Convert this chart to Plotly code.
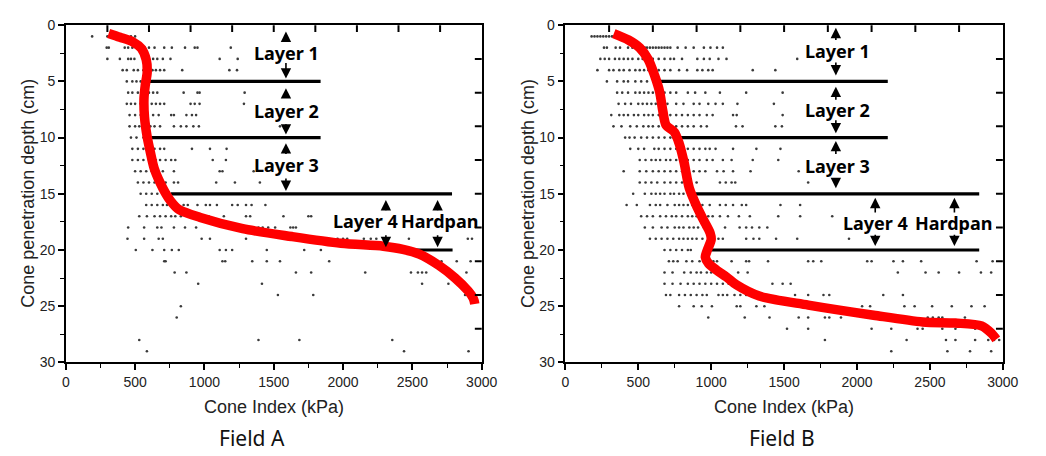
import plotly.graph_objects as go

# ---------------- data ----------------
x_ticks = [0, 500, 1000, 1500, 2000, 2500, 3000]
y_ticks = [0, 5, 10, 15, 20, 25, 30]
top_ticks = [300, 600, 900, 1200, 1500, 1800, 2100, 2400, 2700]
right_ticks = [3, 6, 9, 12, 15, 18, 21, 24, 27]

# mean cone index profiles (red curves)
A_curve_x = [309, 391, 486, 545, 580, 587, 573, 564, 568, 587, 611, 639, 700, 757, 816, 970,
             1276, 1630, 1984, 2290, 2432, 2550, 2691, 2809, 2903, 2935, 2945, 2950]
A_curve_y = [0.73, 1.07, 1.5, 2.07, 3.07, 4.2, 5.36, 6.5, 8.2, 9.93, 11.36, 12.8, 14.5, 15.65, 16.4, 17.1,
             18.1, 18.8, 19.4, 19.66, 19.94, 20.37, 21.37, 22.5, 23.65, 24.2, 24.5, 24.8]
B_curve_x = [332, 433, 511, 568, 612, 646, 668, 691, 747, 780, 814, 850, 904, 948, 993, 1000, 971, 960,
             982, 1038, 1105, 1173, 1330, 1666, 2114, 2451, 2675, 2854, 2921, 2955]
B_curve_y = [0.75, 1.32, 2.03, 3.04, 4.47, 5.9, 7.6, 8.9, 9.5, 10.5, 12.2, 14.5, 16.2, 17.35, 18.5, 19.07,
             20.1, 20.65, 21.2, 21.8, 22.4, 23.1, 24.1, 24.9, 25.8, 26.4, 26.5, 26.75, 27.4, 27.95]

# individual measurements (dots), grouped by depth
A_dot_depths = [1, 2, 3, 4, 5, 6, 7, 8, 9, 10, 11, 12, 13, 14, 15, 16, 17, 18, 19, 20, 21, 22, 23, 24, 25, 26, 28, 29]
A_dot_values = [
    [190, 300, 320, 470, 500],
    [295, 310, 425, 450, 480, 545, 570, 600, 640, 710, 765, 860, 930, 950, 1190],
    [300, 390, 450, 470, 495, 570, 600, 630, 660, 700, 755, 1110, 1240],
    [410, 440, 490, 520, 560, 590, 625, 650, 680, 710, 840, 1180, 1235],
    [440, 480, 510, 540, 570],
    [450, 480, 520, 550, 600, 630, 660, 850, 950, 965, 1290],
    [440, 470, 500, 540, 580, 620, 650, 680, 710, 900, 930, 965, 1285],
    [460, 500, 540, 580, 630, 670, 760, 780, 870, 910, 940],
    [460, 500, 530, 570, 610, 640, 680, 780, 830, 870, 920, 960, 1545],
    [470, 510, 560],
    [480, 520, 560, 600, 640, 680, 710, 910, 1040, 1160],
    [480, 520, 560, 600, 650, 680, 720, 760, 790, 1060, 1155],
    [500, 540, 580, 620, 660, 700, 780, 1110, 1130, 1355],
    [520, 560, 600, 640, 680, 720, 780, 810, 1085, 1220, 1400],
    [540, 580, 620, 660, 700],
    [580, 620, 660, 700, 730, 800, 850, 880, 950, 1010, 1040, 1090, 1200, 1240, 1300, 1340, 1440],
    [530, 585, 640, 680, 720, 760, 790, 830, 980, 1020, 1030, 1140, 1300, 1330, 1570, 1750, 1770],
    [450, 565, 660, 690, 780, 860, 940, 1200, 1390, 1420, 1460, 1510, 1620, 1640, 1660],
    [445, 565, 670, 700, 980, 1040, 1300, 1960, 2000, 2030, 2150, 2200, 2240, 2475, 2900, 2930],
    [505, 625, 710, 765, 815, 1110, 1155, 1200, 1450, 1720, 1840],
    [710, 720, 1130, 1150, 1345, 1450, 1545, 1900, 2710, 2820, 2920],
    [785, 870, 1660, 1770, 2160, 2490, 2540, 2570, 2600, 2890],
    [955, 1415, 2570, 2760],
    [1530, 1785, 2880],
    [830],
    [800],
    [530, 1390, 1685, 2355],
    [585, 2440, 2905],
]
B_dot_depths = list(range(1, 30))
B_dot_values = [
    [180, 200, 220, 240, 260, 280, 300, 320],
    [265, 285, 345, 375, 430, 460, 490, 520, 545, 560, 580, 600, 620, 640, 660, 680, 700, 720, 770, 825, 880, 950, 995, 1040, 1080],
    [240, 270, 300, 340, 370, 400, 430, 460, 500, 530, 560, 600, 640, 680, 720, 745, 800, 905, 950, 990, 1050, 1105, 1590],
    [220, 300, 330, 370, 400, 440, 480, 510, 540, 570, 600, 640, 680, 720, 780, 835, 905, 940, 980, 1010, 1285, 1440],
    [285, 355, 400, 430, 480, 520, 560, 630, 660, 700, 740, 790, 840, 890, 950],
    [355, 390, 430, 480, 510, 540, 570, 600, 640, 680, 720, 760, 840, 890, 960, 1060, 1240, 1490],
    [365, 410, 450, 500, 530, 560, 590, 620, 650, 700, 760, 810, 880, 920, 980, 1030, 1080, 1180, 1430],
    [315, 370, 400, 430, 470, 500, 540, 570, 600, 640, 680, 720, 760, 800, 840, 880, 920, 970, 1010, 1150, 1175, 1490],
    [330, 385, 445, 490, 535, 570, 600, 640, 680, 720, 760, 800, 840, 880, 930, 970, 1170, 1215, 1440, 1485],
    [410, 440, 475, 520, 560, 600, 640, 680, 720, 740],
    [445, 500, 540, 610, 640, 680, 720, 760, 800, 840, 880, 920, 960, 990, 1030, 1150, 1310, 1475],
    [510, 550, 590, 620, 650, 690, 720, 760, 800, 840, 880, 920, 970, 1010, 1080, 1140, 1285, 1460],
    [400, 510, 555, 600, 640, 680, 720, 760, 800, 840, 880, 920, 960, 1040, 1085, 1150, 1270, 1600],
    [510, 550, 590, 630, 680, 720, 760, 800, 860, 900, 1060, 1100, 1140, 1165, 1665],
    [465, 545, 590, 620, 650, 680, 720, 745, 780, 810],
    [420, 490, 580, 620, 650, 700, 750, 780, 810, 840, 870, 900, 940, 990, 1060, 1100, 1150, 1210, 1240, 1475, 1610],
    [520, 560, 600, 650, 690, 730, 760, 800, 840, 870, 900, 940, 980, 1010, 1060, 1115, 1190, 1265, 1460, 1610, 1830],
    [545, 600, 660, 700, 750, 780, 810, 850, 880, 910, 950, 1095, 1195, 1240, 1280, 1330, 1385],
    [580, 620, 660, 700, 740, 780, 810, 840, 870, 900, 940, 990, 1010, 1050, 1080, 1240, 1290, 1330, 1445, 1590, 1945],
    [680, 720, 760, 800, 840, 860],
    [710, 740, 770, 830, 870, 920, 1015, 1040, 1140, 1240, 1260, 1390, 1665, 1700, 1755, 2070, 2100, 2250, 2315, 2440, 2820, 2930],
    [680, 735, 815, 860, 900, 930, 970, 1000, 1040, 1095, 1185, 1250, 2280, 2470, 2560, 2700, 2850, 2920],
    [680, 735, 790, 840, 880, 920, 960, 1000, 1040, 1080, 1120, 1420, 1490, 1545],
    [690, 720, 780, 820, 860, 900, 940, 970, 1050, 1080, 1110, 1160, 1200, 1240, 1575, 1665, 1770, 1810, 2180, 2315],
    [780, 880, 935, 1005, 1175, 1200, 1310, 1365, 2035, 2090, 2325, 2395, 2515, 2650, 2785, 2875],
    [980, 1230, 1400, 1600, 1665, 1780, 1810, 1890, 2485, 2520, 2560, 2585, 2740],
    [1520, 1665, 2100, 2235, 2415, 2450, 2585, 2675, 2810],
    [1780, 2340, 2610, 2675, 2810, 2900, 2940, 2975],
    [2235, 2620, 2775, 2920],
]

# layer boundary lines: depth, start, end
A_bound_depth = [5, 10, 15, 20]
A_bound_start = [604, 604, 757, 2479]
A_bound_end = [1838, 1838, 2786, 2790]
B_bound_depth = [5, 10, 15, 20]
B_bound_start = [646, 769, 892, 993]
B_bound_end = [2211, 2211, 2838, 2838]

# layer labels: text, x, y
layer_text = ["Layer 1", "Layer 2", "Layer 3", "Layer 4", "Hardpan"]
A_label_x = [1590, 1590, 1590, 2160, 2695]
A_label_y = [2.44, 7.6, 12.45, 17.45, 17.45]
B_label_x = [1868, 1868, 1868, 2125, 2663]
B_label_y = [2.26, 7.56, 12.5, 17.6, 17.6]

# arrows: x, tail depth, head depth
A_arrow_x = [1588, 1588, 1588, 1588, 1588, 1588, 2309, 2309, 2682, 2682]
A_arrow_tail = [1.6, 3.24, 6.6, 8.67, 11.6, 13.5, 16.6, 18.55, 16.6, 18.55]
A_arrow_head = [0.57, 4.75, 5.6, 9.73, 10.5, 14.75, 15.55, 19.75, 15.55, 19.75]
B_arrow_x = [1855, 1855, 1855, 1855, 1855, 1855, 2125, 2125, 2668, 2668]
B_arrow_tail = [1.46, 3.18, 6.76, 8.33, 11.6, 13.5, 16.8, 18.5, 16.8, 18.5]
B_arrow_head = [0.23, 4.47, 5.47, 9.62, 10.3, 14.5, 15.35, 19.65, 15.35, 19.65]

panel_titles = ["Field A", "Field B"]

# ---------------- figure ----------------
W, H = 1046, 456
fig = go.Figure()

TICKFONT = dict(family="Liberation Sans, Arial, sans-serif", size=14, color="#222")
LABFONT = dict(family="Liberation Sans, Arial, sans-serif", size=18, color="#222")
BOLDFONT = dict(family="Noto Sans, Open Sans, sans-serif", size=18, color="#000")

panels = [
    ("x", "y", A_curve_x, A_curve_y, A_dot_depths, A_dot_values, A_bound_depth, A_bound_start, A_bound_end,
     A_label_x, A_label_y, A_arrow_x, A_arrow_tail, A_arrow_head),
    ("x2", "y2", B_curve_x, B_curve_y, B_dot_depths, B_dot_values, B_bound_depth, B_bound_start, B_bound_end,
     B_label_x, B_label_y, B_arrow_x, B_arrow_tail, B_arrow_head),
]

xdomA = [63 / W, 487 / W]
xdomB = [572.3 / W, 1018.3 / W]
ydom = [1 - 367.3 / H, 1 - 17.8 / H]
TICK_IN = 7  # px length of inside ticks on top / right frame

annotations = []
shapes = []
for (xa, ya, cx, cy, dd, dv, bd, bs, be, lx, ly, ax_, at, ah), xdom in zip(panels, [xdomA, xdomB]):
    dx, dy = [], []
    for d, vals in zip(dd, dv):
        for v in vals:
            dx.append(v)
            dy.append(d)
    fig.add_trace(go.Scatter(x=dx, y=dy, mode="markers", xaxis=xa, yaxis=ya,
                             marker=dict(size=2.6, color="#3a3a3a", line=dict(width=0)),
                             showlegend=False, hoverinfo="skip"))
    for d, s, e in zip(bd, bs, be):
        fig.add_trace(go.Scatter(x=[s, e], y=[d, d], mode="lines", xaxis=xa, yaxis=ya,
                                 line=dict(color="#000", width=3.2),
                                 showlegend=False, hoverinfo="skip"))
    fig.add_trace(go.Scatter(x=cx, y=cy, mode="lines", xaxis=xa, yaxis=ya,
                             line=dict(color="#ff0000", width=9.5, shape="spline", smoothing=0.8),
                             showlegend=False, hoverinfo="skip"))
    for t, x, y in zip(layer_text, lx, ly):
        annotations.append(dict(x=x, y=y, xref=xa, yref=ya, text="<b>%s</b>" % t, showarrow=False,
                                font=BOLDFONT, xanchor="center", yanchor="middle"))
    for x, t0, h0 in zip(ax_, at, ah):
        annotations.append(dict(x=x, y=h0, ax=x, ay=t0, xref=xa, yref=ya, axref=xa, ayref=ya,
                                text="", showarrow=True, arrowhead=2, arrowsize=1.3,
                                arrowwidth=1.6, arrowcolor="#000", standoff=0, startstandoff=0))
    # inside tick marks on the top and right frame (positions from the tick arrays via the axes)
    ph = (ydom[1] - ydom[0]) * H
    pw = (xdom[1] - xdom[0]) * W
    for v in top_ticks:
        shapes.append(dict(type="line", xref=xa, yref=ya + " domain", x0=v, x1=v, y0=1, y1=1 - TICK_IN / ph,
                           line=dict(color="#000", width=2), layer="above"))
    for v in right_ticks:
        shapes.append(dict(type="line", xref=xa + " domain", yref=ya, x0=1, x1=1 - TICK_IN / pw, y0=v, y1=v,
                           line=dict(color="#000", width=2), layer="above"))

def xaxis(dom, anchor):
    return dict(domain=dom, anchor=anchor, range=[0, 3000], tickvals=x_ticks,
                showline=True, linecolor="#000", linewidth=1.5, mirror=True,
                ticks="outside", ticklen=6, tickwidth=1.6, tickcolor="#000",
                minor=dict(ticks="outside", ticklen=4, tickwidth=1.3, dtick=250, tickcolor="#000"),
                showgrid=False, zeroline=False, tickfont=TICKFONT)

def yaxis(dom, anchor):
    return dict(domain=dom, anchor=anchor, range=[30, 0], tickvals=y_ticks,
                showline=True, linecolor="#000", linewidth=1.5, mirror=True,
                ticks="outside", ticklen=6, tickwidth=1.6, tickcolor="#000",
                minor=dict(ticks="outside", ticklen=4, tickwidth=1.3, dtick=2.5, tickcolor="#000"),
                showgrid=False, zeroline=False, tickfont=TICKFONT)

for dom in [xdomA, xdomB]:
    cx = (dom[0] + dom[1]) / 2
    annotations.append(dict(x=cx, y=1 - 413 / H, xref="paper", yref="paper", text="Cone Index (kPa)",
                            showarrow=False, font=LABFONT, xanchor="center", yanchor="middle"))

for xpix in [25, 534]:
    annotations.append(dict(x=xpix / W, y=1 - 192 / H, xref="paper", yref="paper",
                            text="Cone penetration depth (cm)", textangle=-90,
                            showarrow=False, font=LABFONT, xanchor="center", yanchor="middle"))

for t, xpix in zip(panel_titles, [253, 793]):
    annotations.append(dict(x=xpix / W, y=1 - 446 / H, xref="paper", yref="paper", text=t,
                            showarrow=False, font=dict(family="Noto Sans, Open Sans, sans-serif", size=21, color="#111"),
                            xanchor="center", yanchor="middle"))

fig.update_layout(
    width=W, height=H, margin=dict(l=0, r=0, t=0, b=0),
    paper_bgcolor="white", plot_bgcolor="white",
    xaxis=xaxis(xdomA, "y"), yaxis=yaxis(ydom, "x"),
    xaxis2=xaxis(xdomB, "y2"), yaxis2=yaxis(ydom, "x2"),
    annotations=annotations, shapes=shapes, showlegend=False,
)

fig.write_html("out.html")
